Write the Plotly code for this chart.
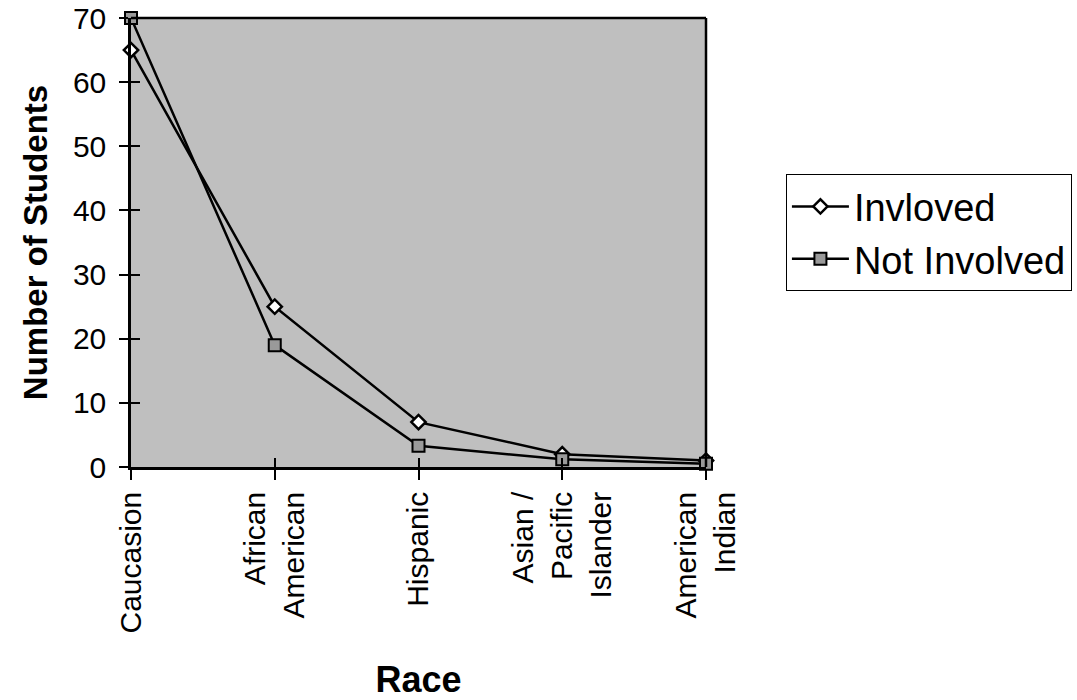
import plotly.graph_objects as go

categories = ["Caucasion", "African<br>American", "Hispanic", "Asian /<br>Pacific<br>Islander", "American<br>Indian"]
involved = [65, 25, 7, 2, 1]
not_involved = [70, 19, 3.3, 1.2, 0.5]
y_ticks = [0, 10, 20, 30, 40, 50, 60, 70]

x_pos = list(range(len(categories)))

fig = go.Figure()
fig.add_trace(go.Scatter(
    x=x_pos, y=involved, name="Invloved", mode="lines+markers",
    line=dict(color="black", width=2.5),
    marker=dict(symbol="diamond", size=11, color="white", line=dict(color="black", width=2.5)),
    cliponaxis=False,
))
fig.add_trace(go.Scatter(
    x=x_pos, y=not_involved, name="Not Involved", mode="lines+markers",
    line=dict(color="black", width=2.5),
    marker=dict(symbol="square", size=12, color="#9a9a9a", line=dict(color="black", width=2)),
    cliponaxis=False,
))

fig.update_layout(
    width=1077, height=700,
    margin=dict(l=131, r=371, t=18, b=233, autoexpand=False),
    paper_bgcolor="white",
    plot_bgcolor="#bfbfbf",
    font=dict(family="Arial, Liberation Sans, sans-serif", color="black", size=30),
    legend=dict(
        x=1.139, y=0.652, xanchor="left", yanchor="top",
        bordercolor="black", borderwidth=1, bgcolor="white",
        font=dict(size=38), tracegroupgap=0, itemwidth=57,
    ),
    xaxis=dict(
        tickmode="array", tickvals=x_pos, ticktext=categories,
        range=[0, 4], tickangle=-90, showgrid=False, zeroline=False,
        ticks="outside", ticklen=10, tickcolor="black", tickwidth=1.5,
        showline=True, linecolor="black", linewidth=2.5, mirror=False,
        tickfont=dict(size=30), automargin=False,
        title=dict(text="<b>Race</b>", font=dict(size=36), standoff=36),
    ),
    yaxis=dict(
        range=[0, 70], tickvals=y_ticks, showgrid=False, zeroline=False,
        ticks="outside", ticklen=9, tickcolor="black", tickwidth=1.5,
        showline=True, linecolor="black", linewidth=2.5,
        tickfont=dict(size=30), automargin=False, ticklabelstandoff=7,
        title=dict(text="<b>Number of Students</b>", font=dict(size=33), standoff=16),
    ),
    xaxis2=dict(
        overlaying="x", range=[0, 4], tickmode="array", tickvals=x_pos,
        showticklabels=False, ticks="inside", ticklen=9, tickcolor="black", tickwidth=1.5,
        showgrid=False, zeroline=False, side="bottom", anchor="y", automargin=False,
    ),
    yaxis2=dict(
        overlaying="y", range=[0, 70], tickvals=y_ticks,
        showticklabels=False, ticks="inside", ticklen=9, tickcolor="black", tickwidth=1.5,
        showgrid=False, zeroline=False, side="left", anchor="x", automargin=False,
    ),
)
fig.add_trace(go.Scatter(x=[None], y=[None], xaxis="x2", yaxis="y2", showlegend=False, hoverinfo="skip"))
fig.add_shape(type="line", xref="paper", yref="paper", x0=0, x1=1, y0=1, y1=1,
              line=dict(color="black", width=2.5))
fig.add_shape(type="line", xref="paper", yref="paper", x0=1, x1=1, y0=0, y1=1,
              line=dict(color="black", width=2.5))

fig.write_html("out.html")
